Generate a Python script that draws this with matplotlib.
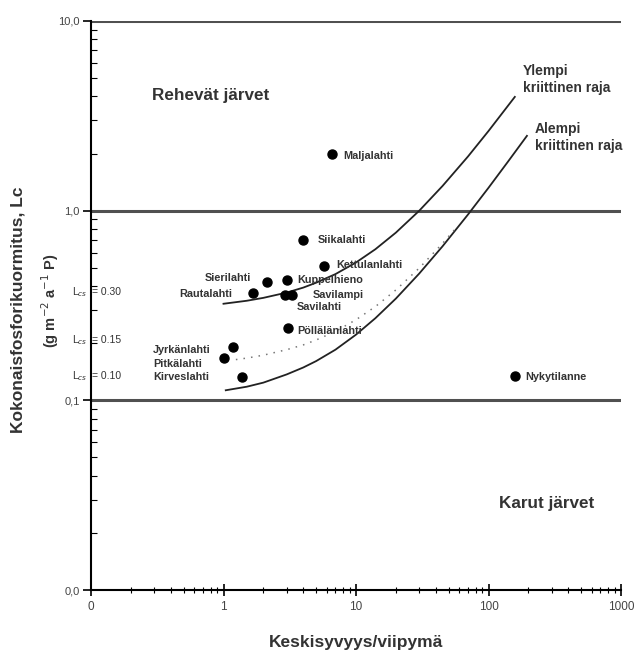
import matplotlib
matplotlib.use("Agg")
import matplotlib.pyplot as plt
import matplotlib.ticker as ticker
import matplotlib.transforms as mtransforms
import numpy as np

plt.rcParams['font.family'] = ['Liberation Sans', 'DejaVu Sans']

# lakes: mean depth / residence time vs. total phosphorus load
lakes = ['Maljalahti', 'Siikalahti', 'Kettulanlahti', 'Kuppelhieno', 'Sierilahti',
         'Rautalahti', 'Savilahti', 'Savilampi', 'Pöllälänlahti', 'Jyrkänlahti',
         'Pitkälahti', 'Kirveslahti', 'Nykytilanne']
qs = [6.6, 3.98, 5.73, 3.02, 2.13, 1.67, 2.91, 3.29, 3.07, 1.18, 1.01, 1.38, 158]
load = [2.0, 0.70, 0.51, 0.43, 0.42, 0.37, 0.36, 0.36, 0.24, 0.19, 0.168, 0.133, 0.135]

# critical load curves
upper_x = [1.0, 1.5, 2, 3, 4, 5, 7, 10, 14, 20, 30, 45, 70, 100, 158]
upper_y = [0.323, 0.335, 0.347, 0.370, 0.393, 0.417, 0.463, 0.533, 0.626, 0.766,
           0.999, 1.35, 1.93, 2.63, 3.98]
lower_x = [1.04, 1.5, 2, 3, 4, 5, 7, 10, 14, 20, 30, 45, 70, 100, 140, 195]
lower_y = [0.113, 0.118, 0.124, 0.137, 0.149, 0.161, 0.185, 0.222, 0.271, 0.344,
           0.466, 0.649, 0.954, 1.32, 1.81, 2.48]
mid_x = [1.24, 1.5, 2, 3, 4, 5, 7, 10, 14, 20, 30, 45, 55]
mid_y = [0.164, 0.167, 0.173, 0.185, 0.196, 0.208, 0.231, 0.266, 0.312, 0.382,
         0.498, 0.672, 0.79]

lcs_values = ['0.30', '0.15', '0.10']

# label placement: (dx, dy) in pixels and alignment
offsets = {
    'Maljalahti': (11, -2, 'left'), 'Siikalahti': (15, 0, 'left'),
    'Kettulanlahti': (12, 1, 'left'), 'Kuppelhieno': (10, 0, 'left'),
    'Sierilahti': (-16, 4, 'right'), 'Rautalahti': (-21, -1, 'right'),
    'Savilahti': (12, -12, 'left'), 'Savilampi': (21, 0, 'left'),
    'Pöllälänlahti': (9, -3, 'left'), 'Jyrkänlahti': (-80, -3, 'left'),
    'Pitkälahti': (-71, -6, 'left'), 'Kirveslahti': (-89, 0, 'left'),
    'Nykytilanne': (10, -1, 'left'),
}

fig = plt.figure(figsize=(6.43, 6.57), dpi=100)
ax = fig.add_axes([91 / 643, 1 - 590 / 657, 530 / 643, 569 / 657])
ax.set_xscale('log')
ax.set_yscale('log')
ax.set_xlim(0.1, 1000)
ax.set_ylim(0.01, 10)

for lev in [0.1, 1, 10]:
    ax.axhline(lev, color='#505050', lw=2.2, zorder=1)

ax.plot(upper_x, upper_y, color='#222222', lw=1.3)
ax.plot(lower_x, lower_y, color='#222222', lw=1.3)
ax.plot(mid_x, mid_y, color='#777777', lw=1.1, linestyle=(0, (1, 4)))

ax.plot(qs, load, 'o', color='black', ms=6.5, zorder=3)
for name, x, y in zip(lakes, qs, load):
    dx, dy, ha = offsets[name]
    ax.annotate(name, (x, y), xytext=(dx, dy), textcoords='offset pixels',
                ha=ha, va='center', fontsize=7.8, fontweight='bold', color='#333333')

ax.text(0.29, 4.04, 'Rehevät järvet', fontsize=12.3, fontweight='bold',
        color='#333333', va='center')
ax.text(120, 0.0285, 'Karut järvet', fontsize=12.3, fontweight='bold',
        color='#333333', va='center')
ax.text(182, 4.9, 'Ylempi\nkriittinen raja', fontsize=10, fontweight='bold',
        color='#333333', va='center', linespacing=1.3)
ax.text(224, 2.43, 'Alempi\nkriittinen raja', fontsize=10, fontweight='bold',
        color='#333333', va='center', linespacing=1.3)

# L_cs labels next to the y axis
trans = mtransforms.blended_transform_factory(ax.transAxes, ax.transData)
for val, ypos in zip(lcs_values, [0.373, 0.209, 0.135]):
    ax.text(-0.006, ypos, 'L$_{cs}$', transform=trans, ha='right', va='center',
            fontsize=7.5, color='#333333', clip_on=False)
    ax.text(0.002, ypos, '= ' + val, transform=trans, ha='left', va='center',
            fontsize=7.5, color='#333333', clip_on=False)

for side in ['top', 'right']:
    ax.spines[side].set_visible(False)
for side in ['left', 'bottom']:
    ax.spines[side].set_linewidth(1.5)

ax.xaxis.set_major_locator(ticker.FixedLocator([0.1, 1, 10, 100, 1000]))
ax.xaxis.set_major_formatter(ticker.FixedFormatter(['0', '1', '10', '100', '1000']))
ax.xaxis.set_minor_locator(ticker.LogLocator(base=10, subs=np.arange(2, 10)))
ax.xaxis.set_minor_formatter(ticker.NullFormatter())
ax.yaxis.set_major_locator(ticker.FixedLocator([0.01, 0.1, 1, 10]))
ax.yaxis.set_major_formatter(ticker.FixedFormatter(['0,0', '0,1', '1,0', '10,0']))
ax.yaxis.set_minor_locator(ticker.LogLocator(base=10, subs=np.arange(2, 10)))
ax.yaxis.set_minor_formatter(ticker.NullFormatter())

ax.tick_params(axis='x', which='major', direction='inout', length=8, width=1.2,
               labelsize=8.5, labelcolor='#444444', pad=4)
ax.tick_params(axis='x', which='minor', direction='inout', length=4, width=0.8)
ax.tick_params(axis='y', which='major', direction='out', length=6, width=1.2,
               labelsize=8, labelcolor='#444444', pad=2)
ax.tick_params(axis='y', which='minor', direction='in', length=4, width=0.8)

ax.set_xlabel('Keskisyvyys/viipymä', fontsize=12.5, fontweight='bold',
              color='#333333', labelpad=16)
fig.text(18 / 643, 1 - 310 / 657, 'Kokonaisfosforikuormitus, Lc', rotation=90,
         ha='center', va='center', fontsize=12.5, fontweight='bold', color='#333333')
fig.text(50 / 643, 1 - 301 / 657, '(g m$^{-2}$ a$^{-1}$ P)', rotation=90,
         ha='center', va='center', fontsize=10.5, fontweight='bold', color='#333333')

fig.savefig('out.png', dpi=100)
